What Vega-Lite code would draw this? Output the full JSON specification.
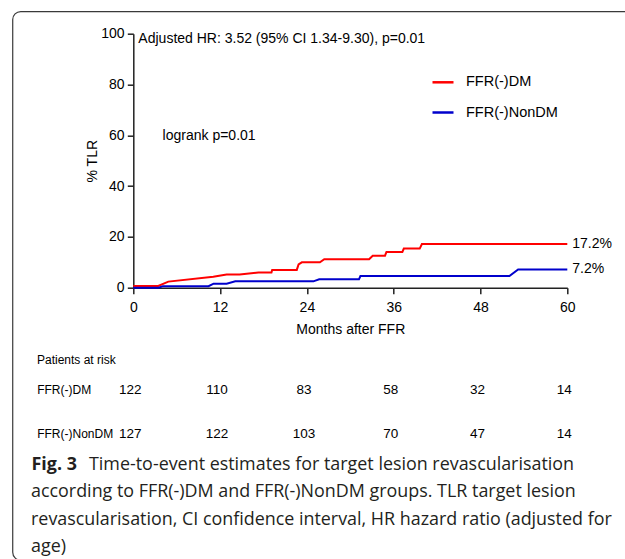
{
  "$schema": "https://vega.github.io/schema/vega-lite/v6.json",
  "width": 434,
  "height": 254,
  "autosize": {"type": "none"},
  "padding": {"left": 133.3, "top": 33.7, "right": 57.7, "bottom": 271.3},
  "background": "white",
  "config": {
    "font": "Liberation Sans",
    "view": {"stroke": null},
    "axis": {"grid": false}
  },
  "title": {
    "text": [
      "according to FFR(-)DM and FFR(-)NonDM groups. TLR target lesion",
      "revascularisation, CI confidence interval, HR hazard ratio (adjusted for",
      "age)"
    ],
    "orient": "bottom",
    "anchor": "start",
    "frame": "bounds",
    "offset": -77.4,
    "dx": 18.9,
    "font": "Open Sans",
    "fontSize": 17.9,
    "fontWeight": "normal",
    "lineHeight": 27.4,
    "color": "#231f20"
  },
  "datasets": {
    "curve": [
      {"group": "FFR(-)DM", "month": 0, "pct": 0.7},
      {"group": "FFR(-)DM", "month": 3.45, "pct": 0.7},
      {"group": "FFR(-)DM", "month": 4.84, "pct": 2.4},
      {"group": "FFR(-)DM", "month": 11.06, "pct": 4.3},
      {"group": "FFR(-)DM", "month": 12.9, "pct": 5.2},
      {"group": "FFR(-)DM", "month": 14.7, "pct": 5.2},
      {"group": "FFR(-)DM", "month": 17.3, "pct": 6.0},
      {"group": "FFR(-)DM", "month": 19.1, "pct": 6.0},
      {"group": "FFR(-)DM", "month": 19.2, "pct": 7.0},
      {"group": "FFR(-)DM", "month": 22.6, "pct": 7.0},
      {"group": "FFR(-)DM", "month": 22.85, "pct": 9.2},
      {"group": "FFR(-)DM", "month": 23.3, "pct": 10.0},
      {"group": "FFR(-)DM", "month": 25.8, "pct": 10.0},
      {"group": "FFR(-)DM", "month": 26.4, "pct": 11.2},
      {"group": "FFR(-)DM", "month": 32.6, "pct": 11.2},
      {"group": "FFR(-)DM", "month": 33.1, "pct": 12.6},
      {"group": "FFR(-)DM", "month": 34.8, "pct": 12.6},
      {"group": "FFR(-)DM", "month": 35.0, "pct": 14.1},
      {"group": "FFR(-)DM", "month": 37.2, "pct": 14.1},
      {"group": "FFR(-)DM", "month": 37.4, "pct": 15.4},
      {"group": "FFR(-)DM", "month": 39.6, "pct": 15.4},
      {"group": "FFR(-)DM", "month": 39.9, "pct": 17.2},
      {"group": "FFR(-)DM", "month": 60, "pct": 17.2},
      {"group": "FFR(-)NonDM", "month": 0, "pct": 0},
      {"group": "FFR(-)NonDM", "month": 3.5, "pct": 0},
      {"group": "FFR(-)NonDM", "month": 4.1, "pct": 0.6},
      {"group": "FFR(-)NonDM", "month": 10.4, "pct": 0.6},
      {"group": "FFR(-)NonDM", "month": 11.1, "pct": 1.6},
      {"group": "FFR(-)NonDM", "month": 12.9, "pct": 1.6},
      {"group": "FFR(-)NonDM", "month": 14.1, "pct": 2.5},
      {"group": "FFR(-)NonDM", "month": 24.9, "pct": 2.5},
      {"group": "FFR(-)NonDM", "month": 25.7, "pct": 3.3},
      {"group": "FFR(-)NonDM", "month": 31.2, "pct": 3.3},
      {"group": "FFR(-)NonDM", "month": 31.4, "pct": 4.6},
      {"group": "FFR(-)NonDM", "month": 52.0, "pct": 4.6},
      {"group": "FFR(-)NonDM", "month": 53.2, "pct": 7.2},
      {"group": "FFR(-)NonDM", "month": 60, "pct": 7.2}
    ],
    "final": [
      {"group": "FFR(-)DM", "month": 60, "pct": 17.2, "label": "17.2%"},
      {"group": "FFR(-)NonDM", "month": 60, "pct": 7.2, "label": "7.2%"}
    ],
    "atrisk": [
      {"group": "FFR(-)DM", "month": 0, "n": 122},
      {"group": "FFR(-)DM", "month": 12, "n": 110},
      {"group": "FFR(-)DM", "month": 24, "n": 83},
      {"group": "FFR(-)DM", "month": 36, "n": 58},
      {"group": "FFR(-)DM", "month": 48, "n": 32},
      {"group": "FFR(-)DM", "month": 60, "n": 14},
      {"group": "FFR(-)NonDM", "month": 0, "n": 127},
      {"group": "FFR(-)NonDM", "month": 12, "n": 122},
      {"group": "FFR(-)NonDM", "month": 24, "n": 103},
      {"group": "FFR(-)NonDM", "month": 36, "n": 70},
      {"group": "FFR(-)NonDM", "month": 48, "n": 47},
      {"group": "FFR(-)NonDM", "month": 60, "n": 14}
    ]
  },
  "layer": [
    {
      "layer": [
        {
          "data": {"name": "curve"},
          "mark": {"type": "line", "strokeWidth": 2, "clip": false},
          "encoding": {
            "x": {
              "field": "month",
              "type": "quantitative",
              "title": "Months after FFR",
              "scale": {"domain": [0, 60], "nice": false, "zero": false},
              "axis": {
                "orient": "bottom",
                "values": [0, 12, 24, 36, 48, 60],
                "labelFlush": false,
                "tickSize": 6,
                "labelPadding": 6.5,
                "labelFontSize": 14,
                "labelColor": "black",
                "titleFontSize": 14,
                "titleFontWeight": "normal",
                "titleColor": "black",
                "titlePadding": 8,
                "domainColor": "#222",
                "tickColor": "#222",
                "domainWidth": 1.5,
                "tickWidth": 1.5
              }
            },
            "y": {
              "field": "pct",
              "type": "quantitative",
              "title": "% TLR",
              "scale": {"domain": [0, 100], "nice": false},
              "axis": {
                "orient": "left",
                "values": [0, 20, 40, 60, 80, 100],
                "labelFlush": false,
                "tickSize": 6,
                "labelPadding": 3.3,
                "labelFontSize": 14,
                "labelColor": "black",
                "titleFontSize": 14,
                "titleFontWeight": "normal",
                "titleColor": "black",
                "titlePadding": 1,
                "domainColor": "#222",
                "tickColor": "#222",
                "domainWidth": 1.5,
                "tickWidth": 1.5
              }
            },
            "color": {
              "field": "group",
              "type": "nominal",
              "scale": {"domain": ["FFR(-)DM", "FFR(-)NonDM"], "range": ["#ff0000", "#0000cc"]},
              "legend": {
                "orient": "none",
                "legendX": 297.7,
                "legendY": 36.6,
                "title": null,
                "symbolType": "stroke",
                "symbolSize": 441,
                "symbolStrokeWidth": 2.5,
                "labelFontSize": 14.5,
                "labelColor": "black",
                "labelOffset": 11,
                "rowPadding": 11.2,
                "padding": 0
              }
            }
          }
        },
        {
          "data": {"name": "final"},
          "mark": {"type": "text", "align": "left", "baseline": "middle", "dx": 5, "fontSize": 14, "fill": "black", "clip": false},
          "encoding": {
            "x": {"field": "month", "type": "quantitative"},
            "y": {"field": "pct", "type": "quantitative"},
            "text": {"field": "label"}
          }
        },
        {
          "data": {"values": [{}]},
          "mark": {"type": "text", "align": "left", "baseline": "middle", "fontSize": 14, "fill": "black"},
          "encoding": {
            "x": {"datum": 0.7, "type": "quantitative"},
            "y": {"datum": 97.8, "type": "quantitative"},
            "text": {"value": "Adjusted HR: 3.52 (95% CI 1.34-9.30), p=0.01"}
          }
        },
        {
          "data": {"values": [{}]},
          "mark": {"type": "text", "align": "left", "baseline": "middle", "fontSize": 14, "fill": "black"},
          "encoding": {
            "x": {"datum": 4.05, "type": "quantitative"},
            "y": {"datum": 59.6, "type": "quantitative"},
            "text": {"value": "logrank p=0.01"}
          }
        }
      ]
    },
    {
      "data": {"name": "atrisk"},
      "mark": {"type": "text", "baseline": "middle", "dx": -3, "fontSize": 13.5, "fill": "black", "clip": false},
      "encoding": {
        "x": {
          "field": "month",
          "type": "quantitative",
          "axis": {
            "orient": "bottom",
            "domain": false,
            "ticks": false,
            "labels": false,
            "grid": false,
            "title": "Fig. 3",
            "titleAngle": 0,
            "titleX": -102.3,
            "titleY": 181.8,
            "titleAlign": "left",
            "titleBaseline": "alphabetic",
            "titleFont": "Open Sans",
            "titleFontSize": 17.9,
            "titleFontWeight": "bold",
            "titleColor": "#231f20"
          }
        },
        "y": {
          "field": "group",
          "type": "nominal",
          "scale": {"type": "point", "domain": ["FFR(-)DM", "FFR(-)NonDM"], "range": [356, 400], "padding": 0},
          "axis": {
            "orient": "left",
            "domain": false,
            "ticks": false,
            "tickSize": 0,
            "labelAlign": "left",
            "labelBaseline": "middle",
            "labelPadding": 96.6,
            "labelFontSize": 12,
            "labelColor": "black",
            "title": "Patients at risk",
            "titleAngle": 0,
            "titleX": -96.8,
            "titleY": 326,
            "titleAlign": "left",
            "titleBaseline": "middle",
            "titleFontSize": 12,
            "titleFontWeight": "normal",
            "titleColor": "black"
          }
        },
        "text": {"field": "n", "type": "quantitative"}
      }
    },
    {
      "data": {"values": [{}]},
      "mark": {"type": "rect", "fill": "transparent", "stroke": "#3a3a3a", "strokeWidth": 1.2, "cornerRadius": 8, "clip": false},
      "encoding": {
        "x": {"datum": -16.67, "type": "quantitative", "axis": null},
        "x2": {"datum": 120},
        "y": {
          "datum": 108.7,
          "type": "quantitative",
          "scale": {"domain": [0, 100], "nice": false},
          "axis": {
            "orient": "left",
            "domain": false,
            "ticks": false,
            "labels": false,
            "grid": false,
            "title": "Time-to-event estimates for target lesion revascularisation",
            "titleAngle": 0,
            "titleX": -44.8,
            "titleY": 435.8,
            "titleAlign": "left",
            "titleBaseline": "alphabetic",
            "titleLimit": 1000,
            "titleFont": "Open Sans",
            "titleFontSize": 17.9,
            "titleFontWeight": "normal",
            "titleColor": "#231f20"
          }
        },
        "y2": {"datum": -107.3}
      }
    }
  ],
  "resolve": {"scale": {"y": "independent"}, "axis": {"x": "independent", "y": "independent"}}
}
